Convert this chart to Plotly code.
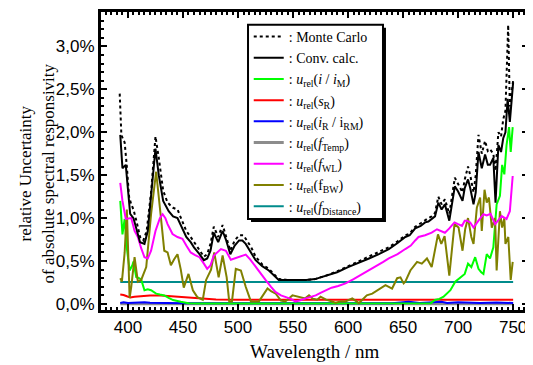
import plotly.graph_objects as go

# ---------------- data ----------------
wl_mc = [392.5, 394, 395.5, 397, 399, 401, 403, 405, 408, 411, 414, 417, 421, 425, 428, 432, 436, 441, 445, 449,
         453, 457, 461, 465, 469, 472, 475, 478, 482, 486, 489, 493, 497, 501, 505, 508, 512, 516, 522, 528,
         533, 537, 545, 555, 562, 570, 580, 590, 600, 610, 619, 628, 637, 645, 652, 656, 661, 666, 670, 673,
         676, 679, 682, 685, 688, 692, 697, 700, 704, 706, 709, 711, 714, 716, 718.5, 721.5, 724.5, 727, 729, 732,
         734, 736.6, 739, 741, 743, 745.5, 747, 750]
monte_carlo = [2.45, 1.97, 1.92, 1.88, 1.60, 1.25, 1.16, 1.10, 0.95, 0.78, 0.74, 0.85, 1.30, 1.95, 1.70, 1.32, 1.18, 1.12, 1.10, 0.98,
               0.85, 0.78, 0.70, 0.62, 0.55, 0.58, 0.70, 0.90, 0.78, 0.92, 0.80, 0.62, 0.74, 0.80, 0.80, 0.74, 0.66, 0.55, 0.46, 0.41,
               0.34, 0.29, 0.28, 0.28, 0.28, 0.29, 0.33, 0.38, 0.44, 0.50, 0.55, 0.60, 0.66, 0.73, 0.80, 0.82, 0.90, 0.94, 0.98, 1.00,
               1.02, 1.06, 1.25, 1.16, 1.22, 1.05, 1.47, 1.40, 1.30, 1.45, 1.60, 1.50, 1.30, 1.50, 1.97, 1.75, 1.90, 1.78, 1.80, 1.75,
               1.55, 2.00, 1.95, 2.15, 2.25, 3.25, 2.30, 2.60]

wl_conv = [393, 395, 398, 400, 402, 405, 408, 411, 415, 418, 422, 425, 428, 432, 437, 441, 445, 449, 453, 457,
           460, 465, 469, 472, 475, 478, 482, 486, 489, 493, 497, 501, 504, 507, 511, 516, 522, 528, 533, 537,
           545, 555, 562, 570, 580, 590, 600, 610, 619, 628, 637, 645, 652, 656, 661, 666, 670, 673, 676, 679,
           682, 685, 688, 692, 697, 700, 704, 706, 709, 711, 714, 716, 718.5, 721.5, 724.5, 727, 729, 732, 734, 736.6,
           739, 741, 743, 745, 747, 750]
conv_calc = [1.97, 1.58, 1.62, 1.35, 1.05, 1.00, 0.85, 0.72, 0.70, 0.85, 1.40, 1.81, 1.50, 1.20, 1.08, 1.02, 1.00, 0.88, 0.78, 0.72,
             0.66, 0.58, 0.51, 0.53, 0.62, 0.83, 0.72, 0.85, 0.75, 0.58, 0.68, 0.74, 0.74, 0.70, 0.62, 0.51, 0.44, 0.39, 0.33, 0.28,
             0.28, 0.28, 0.28, 0.29, 0.33, 0.37, 0.43, 0.48, 0.53, 0.58, 0.64, 0.71, 0.78, 0.80, 0.88, 0.91, 0.95, 0.96, 0.99, 1.02,
             1.18, 1.10, 1.16, 0.97, 1.37, 1.31, 1.20, 1.35, 1.45, 1.35, 1.16, 1.30, 1.77, 1.58, 1.74, 1.62, 1.62, 1.70, 1.18, 1.85,
             1.77, 1.93, 2.00, 2.39, 2.12, 2.58]

wl_i = [393, 395, 397, 399, 401.5, 404, 405, 407.5, 410, 412, 415, 418, 421, 425.6, 429, 433, 437, 441, 448, 455,
        465, 500, 550, 600, 650, 675, 679, 683, 686.8, 690, 693, 697.4, 702, 706, 709, 712, 715.5, 718.5, 721, 723,
        726, 729, 732, 735, 738, 740, 742, 744, 746.3, 747.8, 749.6]
u_i = [1.20, 0.81, 0.99, 0.65, 0.39, 0.45, 0.495, 0.315, 0.30, 0.285, 0.16, 0.17, 0.16, 0.12, 0.11, 0.10, 0.07, 0.046, 0.026, 0.01,
       0.005, 0.005, 0.005, 0.005, 0.005, 0.01, 0.046, 0.06, 0.085, 0.12, 0.16, 0.26, 0.31, 0.35, 0.47, 0.43, 0.545, 0.41, 0.37, 0.35,
       0.58, 0.53, 0.66, 1.16, 1.26, 1.62, 1.51, 1.85, 2.06, 1.77, 2.06]

wl_s = [393, 396, 399, 402, 406, 412, 420, 430, 440, 450, 460, 470, 480, 500, 550, 600, 650, 700, 750]
u_s = [0.11, 0.105, 0.09, 0.077, 0.085, 0.095, 0.10, 0.10, 0.09, 0.08, 0.068, 0.056, 0.052, 0.05, 0.05, 0.05, 0.05, 0.05, 0.05]

wl_iR = [393, 396, 400, 405, 410, 415, 420, 430, 450, 500, 550, 600, 640, 655, 665, 685, 690, 700, 720, 735, 750]
u_iR = [0.012, 0.02, 0.012, 0.015, 0.012, 0.02, 0.014, 0.012, 0.01, 0.01, 0.01, 0.01, 0.01, 0.025, 0.012, 0.025, 0.012, 0.02, 0.012, 0.016, 0.012]

wl_temp = [393, 500, 600, 750]
u_temp = [0.002, 0.002, 0.002, 0.002]

wl_wl = [393, 395, 398, 401, 403, 406, 409, 412, 415, 418, 421, 425, 429, 431.5, 434, 436, 440.5, 445, 449.5, 453,
         457, 461, 465, 469, 472, 475, 478, 484.5, 489, 493.5, 497, 501, 507, 511, 516, 520, 525, 530, 534, 539,
         543, 548, 552, 556, 561.5, 566, 570.6, 575, 579.6, 585, 591, 597.7, 605, 612, 619, 626, 632, 637, 645, 652,
         657, 661, 664, 670, 676, 680.8, 684, 688, 692, 696.7, 700, 703.5, 706, 708, 711, 714, 718.5, 723, 726, 729.5,
         733.6, 736, 739.7, 744, 747, 749.6]
u_wl = [1.41, 1.20, 0.99, 1.00, 1.00, 0.85, 0.78, 0.65, 0.545, 0.53, 0.62, 0.85, 1.00, 1.045, 1.00, 0.93, 0.815, 0.78, 0.76, 0.68,
        0.60, 0.57, 0.545, 0.47, 0.41, 0.45, 0.565, 0.64, 0.62, 0.515, 0.53, 0.55, 0.575, 0.52, 0.43, 0.36, 0.28, 0.20, 0.14, 0.10,
        0.085, 0.06, 0.03, 0.04, 0.065, 0.08, 0.10, 0.13, 0.16, 0.19, 0.21, 0.24, 0.29, 0.34, 0.39, 0.44, 0.49, 0.53, 0.58, 0.64,
        0.68, 0.74, 0.78, 0.80, 0.83, 0.87, 0.85, 0.83, 0.88, 0.95, 0.93, 0.91, 0.97, 0.97, 0.95, 0.89, 0.97, 1.045, 1.03, 1.05,
        0.93, 0.97, 1.025, 0.99, 1.08, 1.49]

wl_bw = [393, 394.5, 397, 399, 401.5, 403, 406, 409, 412, 416.6, 421, 425.6, 430, 433, 436, 439, 442, 445, 448, 450.7,
         455, 459, 463, 468, 471, 475.5, 478.4, 482.4, 486, 489.7, 492, 494.5, 498, 502.6, 507, 511.7, 519, 523, 526.8, 530,
         534.3, 539, 543, 549.5, 553, 557, 561, 564.5, 568, 572, 575, 580, 584, 588.7, 593, 597.7, 603.8, 609.8, 613, 617,
         622, 626.5, 630, 634, 640, 644.6, 647.6, 650.5, 652, 656.6, 662.7, 667, 671.7, 676, 681.7, 684.7, 687.7, 692, 696.7, 700.4,
         704, 706.4, 709, 712, 714, 717, 720, 721.5, 724, 726, 728, 730.6, 733.6, 735, 738, 740, 742, 743, 745.6, 747.8,
         749.6]
u_bw = [0.30, 0.26, 0.60, 1.10, 0.07, 0.20, 0.545, 0.26, 0.28, 0.43, 1.045, 1.54, 1.00, 0.62, 0.60, 0.45, 0.52, 0.58, 0.40, 0.19,
        0.35, 0.16, 0.08, 0.05, 0.28, 0.40, 0.60, 0.31, 0.565, 0.31, 0.03, 0.03, 0.41, 0.39, 0.20, 0.03, 0.03, 0.10, 0.18, 0.15,
        0.12, 0.04, 0.03, 0.10, 0.09, 0.08, 0.065, 0.10, 0.06, 0.05, 0.085, 0.05, 0.03, 0.015, 0.03, 0.03, 0.065, 0.01, 0.05, 0.10,
        0.12, 0.16, 0.19, 0.22, 0.18, 0.30, 0.31, 0.24, 0.26, 0.39, 0.49, 0.47, 0.53, 0.43, 0.81, 0.70, 0.79, 0.33, 0.93, 0.89,
        0.62, 0.87, 1.00, 0.78, 0.70, 1.12, 1.24, 0.85, 1.33, 1.18, 1.24, 0.89, 1.00, 0.39, 1.08, 0.89, 1.00, 0.70, 0.78, 0.28,
        0.49]

wl_dist = [393, 750]
u_dist = [0.255, 0.255]

x_tickvals = [400, 450, 500, 550, 600, 650, 700, 750]
y_tickvals = [0.0, 0.5, 1.0, 1.5, 2.0, 2.5, 3.0]
y_ticktext = ["0,0%", "0,5%", "1,0%", "1,5%", "2,0%", "2,5%", "3,0%"]

names = [
    ": Monte Carlo",
    ": Conv. calc.",
    ": <i>u</i><sub>rel</sub>(<i>i</i> / <i>i</i><sub>M</sub>)",
    ": <i>u</i><sub>rel</sub>(<i>s</i><sub>R</sub>)",
    ": <i>u</i><sub>rel</sub>(<i>i</i><sub>R</sub> / i<sub>RM</sub>)",
    ": <i>u</i><sub>rel</sub>(<i>f</i><sub>Temp</sub>)",
    ": <i>u</i><sub>rel</sub>(<i>f</i><sub>WL</sub>)",
    ": <i>u</i><sub>rel</sub>(f<sub>BW</sub>)",
    ": <i>u</i><sub>rel</sub>(<i>f</i><sub>Distance</sub>)",
]

# ---------------- figure ----------------
fig = go.Figure()
series = [
    (wl_temp, u_temp, "#8c8c8c", 3, "solid", names[5]),
    (wl_dist, u_dist, "#008b8b", 2, "solid", names[8]),
    (wl_s, u_s, "#ff0000", 2, "solid", names[3]),
    (wl_iR, u_iR, "#0000ff", 2, "solid", names[4]),
    (wl_i, u_i, "#00ff00", 2, "solid", names[2]),
    (wl_bw, u_bw, "#808000", 2, "solid", names[7]),
    (wl_wl, u_wl, "#ff00ff", 2, "solid", names[6]),
    (wl_mc, monte_carlo, "#000000", 2, "dot", names[0]),
    (wl_conv, conv_calc, "#000000", 2, "solid", names[1]),
]
rank = {names[i]: i for i in range(len(names))}
for x, y, c, w, d, n in series:
    fig.add_trace(go.Scatter(x=x, y=y, mode="lines", name=n,
                             line=dict(color=c, width=w, dash=d),
                             legendrank=rank[n] + 1))

axis_common = dict(showline=True, linecolor="black", linewidth=3, mirror="allticks",
                   ticks="inside", ticklen=6, tickwidth=2, tickcolor="black",
                   showgrid=False, zeroline=False,
                   tickfont=dict(family="Liberation Sans, Arial", size=17, color="black"))

fig.update_xaxes(range=[375.5, 763.5], tickvals=x_tickvals,
                 minor=dict(ticks="inside", ticklen=3, dtick=5, tick0=400, tickcolor="black", tickwidth=1.5),
                 **axis_common)
fig.update_yaxes(range=[-0.07, 3.40], tickvals=y_tickvals, ticktext=y_ticktext,
                 minor=dict(ticks="inside", ticklen=3, dtick=0.1, tick0=0, tickcolor="black", tickwidth=1.5),
                 **axis_common)

title_font = dict(family="Liberation Serif, Times New Roman", color="black")
fig.add_annotation(text="Wavelength / nm", xref="paper", yref="paper",
                   x=0.501, y=-0.1395, xanchor="center", yanchor="middle",
                   showarrow=False, font=dict(size=19, **title_font))
fig.add_annotation(text="relative Uncertainty<br>of absolute spectral responsivity",
                   xref="paper", yref="paper", x=-0.150, y=0.458,
                   xanchor="center", yanchor="middle", textangle=-90,
                   showarrow=False, font=dict(size=17, **title_font))

# legend frame with drop shadow (pixel box of the reference legend)
fig.add_shape(type="rect", xref="paper", yref="paper", layer="above",
              x0=0.3513, x1=0.6674, y0=0.2957, y1=0.9468,
              fillcolor="black", line=dict(width=0))
fig.add_shape(type="rect", xref="paper", yref="paper", layer="above",
              x0=0.3443, x1=0.6604, y0=0.3056, y1=0.9568,
              fillcolor="white", line=dict(color="black", width=2))

fig.update_layout(
    width=525, height=357,
    margin=dict(l=93, r=5, t=1, b=55),
    paper_bgcolor="white", plot_bgcolor="white",
    showlegend=True,
    legend=dict(x=0.346, y=0.970, xanchor="left", yanchor="top",
                bgcolor="rgba(0,0,0,0)", borderwidth=0,
                font=dict(family="Liberation Serif, Times New Roman", size=14, color="black"),
                tracegroupgap=0, itemwidth=30),
)

fig.write_html("out.html")
